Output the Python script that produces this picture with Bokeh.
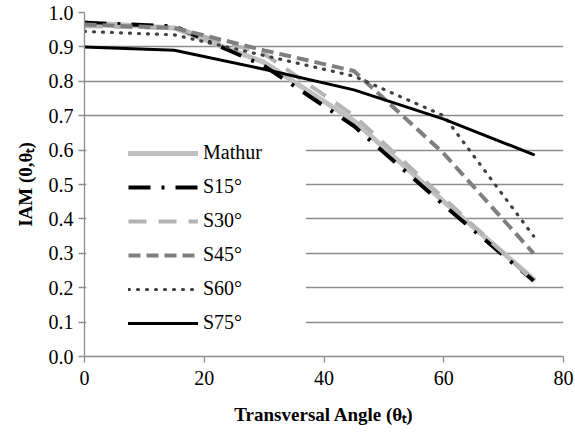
from bokeh.plotting import figure
from bokeh.models import FixedTicker, NumeralTickFormatter, Legend, LegendItem, BoxAnnotation
from bokeh.embed import file_html
from bokeh.resources import INLINE

angles = [0, 15, 30, 45, 60, 75]
mathur = [0.97, 0.955, 0.855, 0.685, 0.45, 0.225]
s15 = [0.97, 0.96, 0.845, 0.67, 0.44, 0.22]
s30 = [0.96, 0.955, 0.88, 0.70, 0.46, 0.22]
s45 = [0.965, 0.955, 0.89, 0.83, 0.59, 0.30]
s60 = [0.945, 0.935, 0.875, 0.815, 0.70, 0.35]
s75 = [0.90, 0.89, 0.835, 0.775, 0.69, 0.587]

names = ["Mathur", "S15°", "S30°", "S45°", "S60°", "S75°"]
series = [mathur, s15, s30, s45, s60, s75]
styles = [
    dict(line_color="#c0c0c0", line_width=5, line_dash="solid", line_cap="round"),
    dict(line_color="#000000", line_width=4, line_dash="22 11 3 11", line_cap="butt"),
    dict(line_color="#b4b4b4", line_width=4, line_dash="18 12", line_cap="butt"),
    dict(line_color="#7f7f7f", line_width=4, line_dash="12 6", line_cap="butt"),
    dict(line_color="#404040", line_width=3.2, line_dash="1 8", line_cap="round"),
    dict(line_color="#000000", line_width=3, line_dash="solid", line_cap="round"),
]

FONT = "Liberation Serif"

p = figure(width=575, height=438, frame_width=479, frame_height=344,
           output_backend="svg", toolbar_location=None,
           x_range=(0, 80), y_range=(0, 1.0),
           min_border_left=84, min_border_right=12, min_border_top=12, min_border_bottom=82)
p.outline_line_color = None
p.background_fill_color = "white"

p.xgrid.grid_line_color = None
p.ygrid.grid_line_color = "#8c8c8c"
p.ygrid.grid_line_width = 1.3

# white panel behind the legend (hides the grid lines there, as in the original)
panel = BoxAnnotation(left=0.3, right=37, bottom=0.045, top=0.655,
                      fill_color="white", fill_alpha=1.0, line_color=None,
                      level="underlay")
p.add_layout(panel)

p.xaxis.ticker = FixedTicker(ticks=[0, 20, 40, 60, 80])
p.yaxis.ticker = FixedTicker(ticks=[round(i * 0.1, 1) for i in range(11)])
p.yaxis.formatter = NumeralTickFormatter(format="0.0")

for ax in (p.xaxis, p.yaxis):
    ax.axis_line_color = "#8c8c8c"
    ax.axis_line_width = 1.3
    ax.major_tick_line_color = "#8c8c8c"
    ax.major_tick_line_width = 1.3
    ax.major_tick_out = 6
    ax.major_tick_in = 0
    ax.minor_tick_line_color = None
    ax.major_label_text_font = FONT
    ax.major_label_text_font_size = "20px"
    ax.major_label_text_color = "#000000"
    ax.axis_label_text_font = FONT
    ax.axis_label_text_font_size = "19px"
    ax.axis_label_text_font_style = "bold"
    ax.axis_label_text_color = "#000000"

p.yaxis.major_label_standoff = 5
p.yaxis.axis_label = "IAM (0,θₜ)"
p.yaxis.axis_label_standoff = 10
p.xaxis.major_label_standoff = 8
p.xaxis.axis_label = "Transversal Angle (θₜ)"
p.xaxis.axis_label_standoff = 16

items = []
for name, ys, st in zip(names, series, styles):
    r = p.line(angles, ys, **st)
    items.append(LegendItem(label=name, renderers=[r]))

legend = Legend(items=items, location=(44, 22), glyph_width=70, glyph_height=20,
                label_height=20, spacing=11, padding=10, margin=0,
                label_width=92, label_standoff=5,
                label_text_font=FONT, label_text_font_size="20px",
                label_text_color="#000000",
                background_fill_color="white", background_fill_alpha=1.0,
                border_line_color=None)
p.add_layout(legend)

open("out.html", "w").write(file_html(p, INLINE))
